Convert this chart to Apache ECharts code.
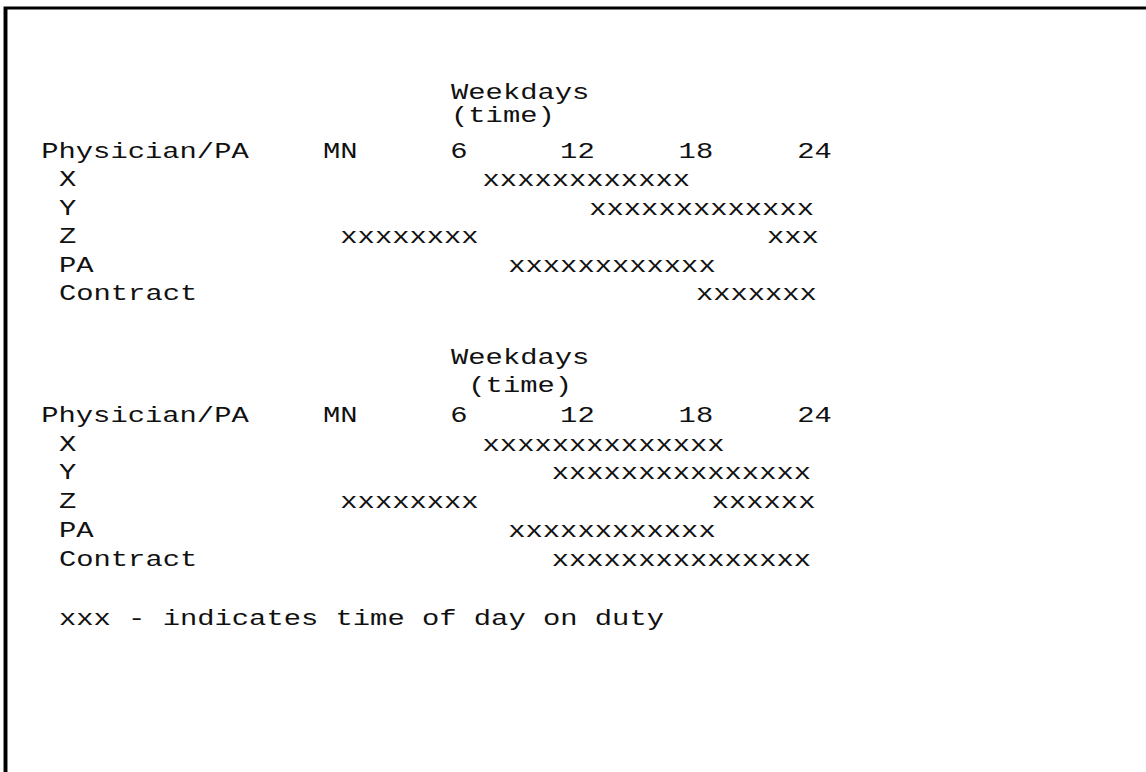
<!DOCTYPE html>
<html>
<head>
<meta charset="utf-8">
<script src="https://cdn.jsdelivr.net/npm/echarts@6/dist/echarts.min.js"></script>
<style>
  html, body { margin: 0; padding: 0; background: #fff; overflow: hidden; }
  /* typewriter text in the scan is wider than any installed mono font, so stretch the whole chart */
  #chart { width: 875px; height: 772px; transform: scaleX(1.31); transform-origin: 0 0; }
</style>
</head>
<body>
<div id="chart"></div>
<script>
const staff = ['X', 'Y', 'Z', 'PA', 'Contract']
const hourTicks = [0, 6, 12, 18, 24]
const hourLabels = ['MN', '6', '12', '18', '24']
// on-duty spans, hours of the day: [start, end, staff index]
const dutyFirst = [[7.2, 17.8, 0], [12.6, 24, 1], [0, 7, 2], [21.6, 24, 2], [8.5, 19.1, 3], [18, 24, 4]]
const dutySecond = [[7.2, 19.5, 0], [10.7, 24, 1], [0, 7, 2], [18.8, 24, 2], [8.5, 19.1, 3], [10.7, 24, 4]]
const legendText = 'xxx - indicates time of day on duty'

const FONT_FAMILY = '"Liberation Mono", "DejaVu Sans Mono", monospace'
const FONT_SIZE = 22
const CHAR_W = FONT_SIZE * 0.6
const INK = '#111'
const font = FONT_SIZE + 'px ' + FONT_FAMILY

const chart = echarts.init(document.getElementById('chart'), null, { renderer: 'svg' })

const renderDuty = (params, api) => {
  const p0 = api.coord([api.value(0), api.value(2)])
  const p1 = api.coord([api.value(1), api.value(2)])
  const n = Math.round((p1[0] - p0[0]) / CHAR_W)
  return {
    type: 'text',
    x: p0[0],
    y: p0[1],
    style: {
      text: 'x'.repeat(n),
      font: font,
      fill: INK,
      textAlign: 'left',
      textVerticalAlign: 'middle'
    }
  }
}

const makeX = (gridIndex, margin) => ({
  type: 'value',
  gridIndex,
  position: 'top',
  min: 0,
  max: 24,
  interval: 6,
  axisLine: { show: false },
  axisTick: { show: false },
  splitLine: { show: false },
  axisLabel: {
    margin,
    verticalAlign: 'middle',
    fontFamily: FONT_FAMILY,
    fontSize: FONT_SIZE,
    color: INK,
    formatter: v => hourLabels[hourTicks.indexOf(v)]
  }
})

const makeY = gridIndex => ({
  type: 'category',
  gridIndex,
  data: staff,
  inverse: true,
  axisLine: { show: false },
  axisTick: { show: false },
  splitLine: { show: false },
  axisLabel: {
    interval: 0,
    hideOverlap: false,
    align: 'left',
    margin: 214.8,
    fontFamily: FONT_FAMILY,
    fontSize: FONT_SIZE,
    color: INK
  }
})

const label = (text, x, y) => ({
  type: 'text',
  x,
  y,
  style: { text, font: font, fill: INK, textAlign: 'left', textVerticalAlign: 'middle' }
})

const option = {
  animation: false,
  backgroundColor: '#fff',
  grid: [
    { left: 259.8, right: 253.3, top: 166.25, height: 142.5 },
    { left: 259.8, right: 253.3, top: 430.6, height: 143.75 }
  ],
  xAxis: [makeX(0, 14.25), makeX(1, 14.6)],
  yAxis: [makeY(0), makeY(1)],
  graphic: [
    {
      type: 'polyline',
      shape: { points: [[4.2, 772], [4.2, 8], [875, 8]] },
      style: { stroke: '#000', lineWidth: 3, fill: null }
    },
    label('Weekdays', 344.3, 93),
    label('(time)', 344.3, 116),
    label('Physician/PA', 31.5, 152),
    label('Weekdays', 344.3, 358),
    label('(time)', 357.5, 386),
    label('Physician/PA', 31.5, 416),
    label(legendText, 45, 619)
  ],
  series: [
    { type: 'custom', xAxisIndex: 0, yAxisIndex: 0, renderItem: renderDuty, encode: { x: [0, 1], y: 2 }, data: dutyFirst },
    { type: 'custom', xAxisIndex: 1, yAxisIndex: 1, renderItem: renderDuty, encode: { x: [0, 1], y: 2 }, data: dutySecond }
  ]
}

chart.setOption(option)
</script>
</body>
</html>
